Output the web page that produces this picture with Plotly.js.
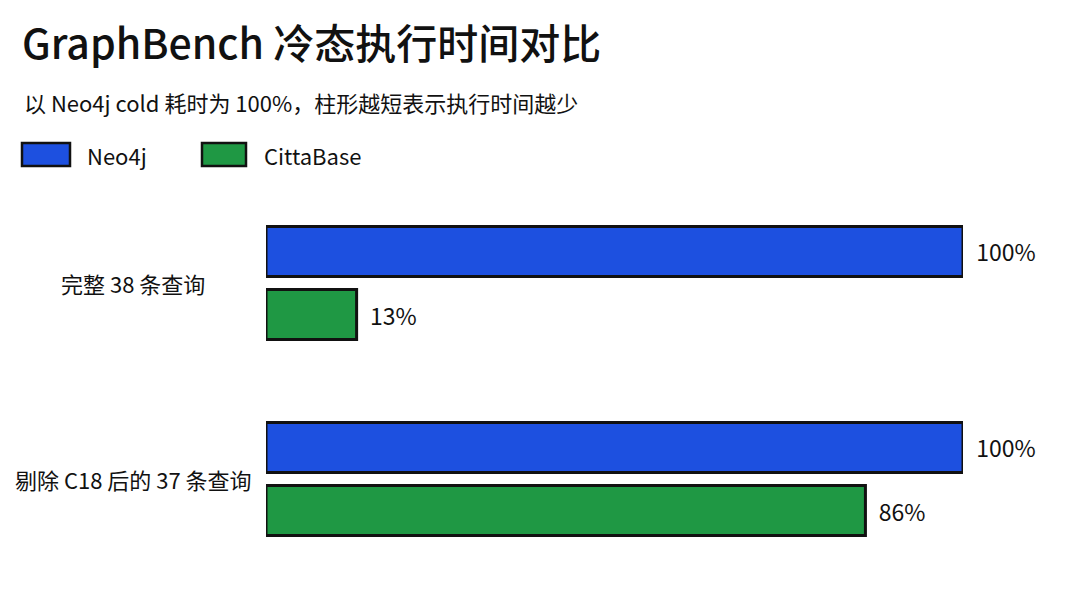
<!DOCTYPE html>
<html>
<head>
<meta charset="utf-8">
<script src="https://cdn.plot.ly/plotly-3.0.1.min.js"></script>
<style>
  html, body { margin: 0; padding: 0; background: #ffffff; }
  #chart { width: 1080px; height: 611px; }
</style>
</head>
<body>
<div id="chart"></div>
<script>
// ---- Data ----
const categories = ['完整 38 条查询', '剔除 C18 后的 37 条查询'];
const seriesNames = ['Neo4j', 'CittaBase'];
const neo4jValues = [100, 100];
const cittaValues = [13, 86];
const titleText = 'GraphBench 冷态执行时间对比';
const subtitleText = '以 Neo4j cold 耗时为 100%，柱形越短表示执行时间越少';

// ---- Styles ----
const colors = ['#1d50e0', '#1f9844'];
const FONT = '"Noto Sans CJK SC", "Noto Sans", sans-serif';
const W = 1080, H = 611;
const M = { l: 266, r: 117, t: 185, b: 34 };
const plotW = W - M.l - M.r, plotH = H - M.t - M.b;
const px2x = p => (p - M.l) / plotW;
const px2y = p => (H - M.b - p) / plotH;

const valueSeries = [neo4jValues, cittaValues];
const traces = seriesNames.map((name, i) => ({
  type: 'bar',
  orientation: 'h',
  name: name,
  y: categories,
  x: valueSeries[i],
  marker: {
    color: colors[i],
    line: { color: '#111111', width: 3 }
  },
  text: valueSeries[i].map(v => v + '%'),
  texttemplate: '\u00a0\u00a0%{text}',
  textposition: 'outside',
  cliponaxis: false,
  textfont: { family: FONT, size: 23, color: '#111111' },
  hoverinfo: 'skip'
}));

// custom legend (large swatches like the reference)
const legendPos = [
  { sx0: 22, sx1: 70, tx: 85 },
  { sx0: 202, sx1: 246, tx: 262 }
];
const shapes = seriesNames.map((n, i) => ({
  type: 'rect', xref: 'paper', yref: 'paper',
  x0: px2x(legendPos[i].sx0), x1: px2x(legendPos[i].sx1),
  y0: px2y(166), y1: px2y(143),
  fillcolor: colors[i], line: { color: '#111111', width: 2.5 }
}));

const annotations = [];
annotations.push({
  xref: 'paper', yref: 'paper', x: px2x(22), y: px2y(102),
  xanchor: 'left', yanchor: 'middle', showarrow: false,
  text: subtitleText, font: { family: FONT, size: 22, color: '#111111' }
});
seriesNames.forEach((n, i) => annotations.push({
  xref: 'paper', yref: 'paper', x: px2x(legendPos[i].tx), y: px2y(155),
  xanchor: 'left', yanchor: 'middle', showarrow: false,
  text: n, font: { family: FONT, size: 22, color: '#111111' }
}));
categories.forEach(c => annotations.push({
  xref: 'paper', yref: 'y', x: px2x(133), y: c,
  xanchor: 'center', yanchor: 'middle', showarrow: false,
  text: c, font: { family: FONT, size: 22, color: '#111111' }
}));

const layout = {
  width: W, height: H,
  margin: M,
  paper_bgcolor: '#ffffff',
  plot_bgcolor: '#ffffff',
  showlegend: false,
  barmode: 'group',
  bargap: 0.357,
  bargroupgap: 0.206,
  title: {
    text: titleText,
    xref: 'container', yref: 'container',
    x: 22 / W, xanchor: 'left',
    y: 1 - 45 / H, yanchor: 'middle',
    font: { family: FONT, size: 41, weight: 500, color: '#111111' }
  },
  xaxis: {
    range: [0, 100], showgrid: false, zeroline: false, showline: false,
    showticklabels: false, ticks: ''
  },
  yaxis: {
    type: 'category', categoryorder: 'array', categoryarray: categories,
    range: [1.5, -0.5], showgrid: false, zeroline: false, showline: false,
    showticklabels: false, ticks: ''
  },
  shapes: shapes,
  annotations: annotations
};

Plotly.newPlot('chart', traces, layout, { displayModeBar: false, staticPlot: true });
</script>
</body>
</html>
